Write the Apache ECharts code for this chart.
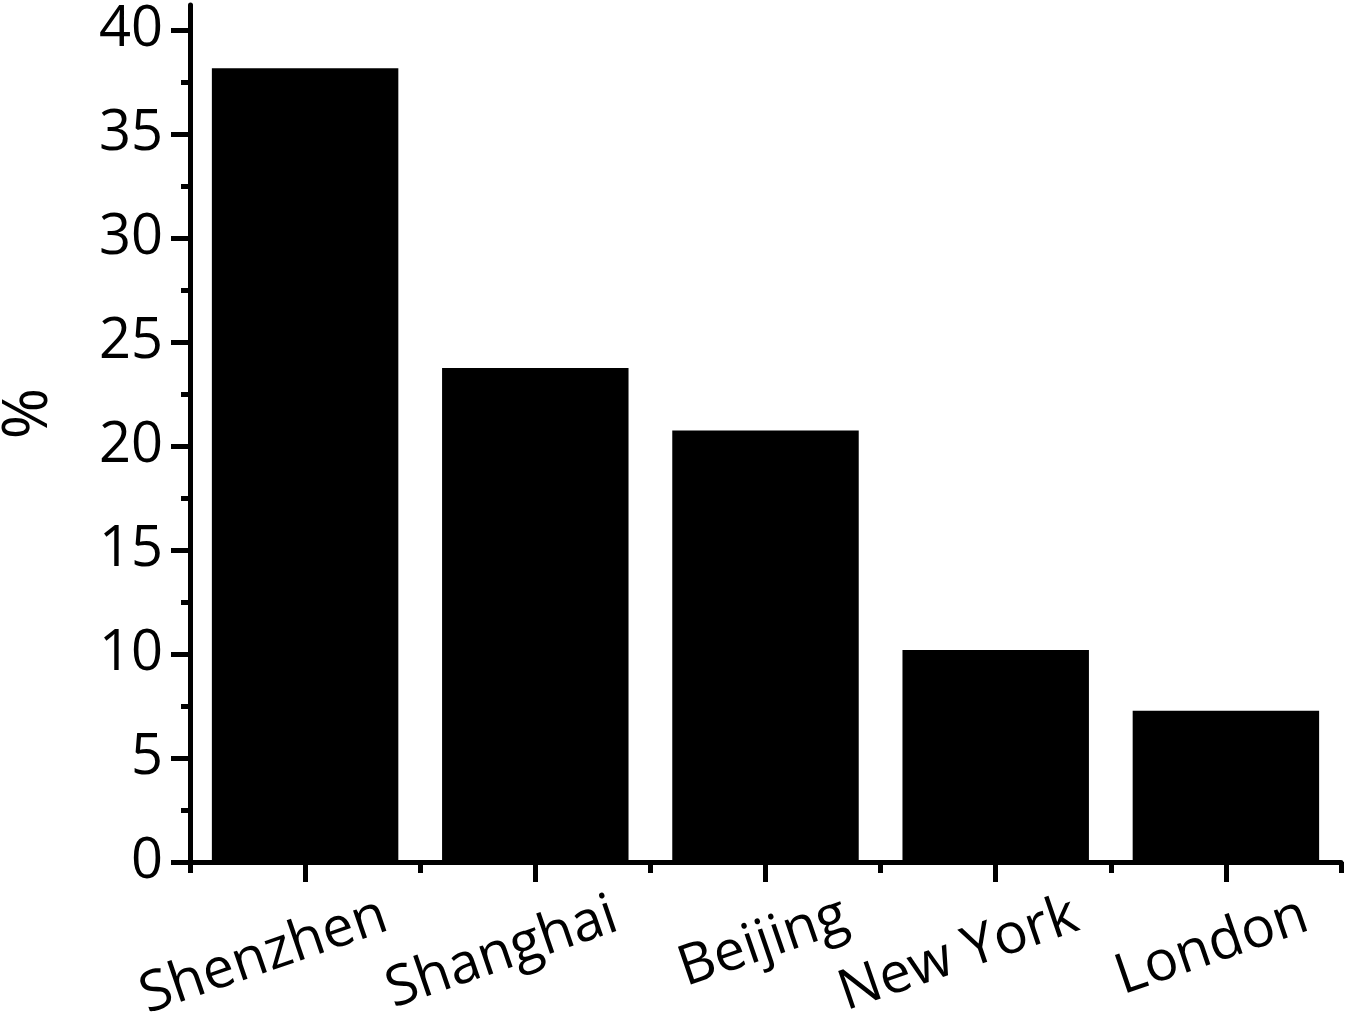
<!DOCTYPE html>
<html>
<head>
<meta charset="utf-8">
<script src="https://cdn.jsdelivr.net/npm/echarts@6/dist/echarts.min.js"></script>
<style>
html,body{margin:0;padding:0;background:#fff;}
#chart{width:1350px;height:1027px;}
</style>
</head>
<body>
<div id="chart"></div>
<script>
const categories = ['Shenzhen', 'Shanghai', 'Beijing', 'New York', 'London'];
const values = [38.16, 23.75, 20.74, 10.19, 7.27];
const majorTicks = [0, 5, 10, 15, 20, 25, 30, 35, 40];
const minorTicks = [2.5, 7.5, 12.5, 17.5, 22.5, 27.5, 32.5, 37.5];
const yMax = 41.2;

const FONT = 'Open Sans';
const chart = echarts.init(document.getElementById('chart'), null, {renderer: 'canvas'});
chart.setOption({
  animation: false,
  backgroundColor: '#fff',
  grid: {left: 190, right: 9, top: 862 - yMax * 20.8, bottom: 1027 - 862, outerBoundsMode: 'none', containLabel: false},
  xAxis: [{
    type: 'category',
    position: 'bottom',
    data: categories,
    boundaryGap: true,
    axisLine: {show: true, lineStyle: {color: '#000', width: 5}},
    axisTick: {show: true, alignWithLabel: true, length: 20, lineStyle: {color: '#000', width: 5}},
    axisLabel: {
      show: true, interval: 0, rotate: 19, margin: 80,
      color: '#000', fontFamily: FONT, fontSize: 56,
      padding: [0, -85, 0, 0]
    },
    splitLine: {show: false}
  }, {
    type: 'category',
    position: 'bottom',
    data: categories,
    boundaryGap: true,
    axisLine: {show: false},
    axisTick: {show: true, alignWithLabel: false, interval: 0, length: 11, lineStyle: {color: '#000', width: 5}},
    axisLabel: {show: false},
    splitLine: {show: false}
  }],
  yAxis: [{
    type: 'value',
    position: 'left',
    min: 0, max: yMax,
    name: '%',
    nameLocation: 'middle',
    nameRotate: 90,
    nameGap: 130,
    nameTextStyle: {color: '#000', fontFamily: FONT, fontSize: 62, padding: [0, 0, 0, 40]},
    axisLine: {show: true, lineStyle: {color: '#000', width: 5}},
    axisTick: {show: true, length: 19, customValues: majorTicks, lineStyle: {color: '#000', width: 5}},
    axisLabel: {show: true, customValues: majorTicks, margin: 27, color: '#000', fontFamily: FONT, fontSize: 56},
    splitLine: {show: false}
  }, {
    type: 'value',
    position: 'left',
    min: 0, max: yMax,
    axisLine: {show: false},
    axisTick: {show: true, length: 9, customValues: minorTicks, lineStyle: {color: '#000', width: 5}},
    axisLabel: {show: false},
    splitLine: {show: false}
  }],
  series: [{
    type: 'bar',
    xAxisIndex: 0,
    yAxisIndex: 0,
    data: values,
    barCategoryGap: '19%',
    itemStyle: {color: '#000'}
  }]
});
</script>
</body>
</html>
